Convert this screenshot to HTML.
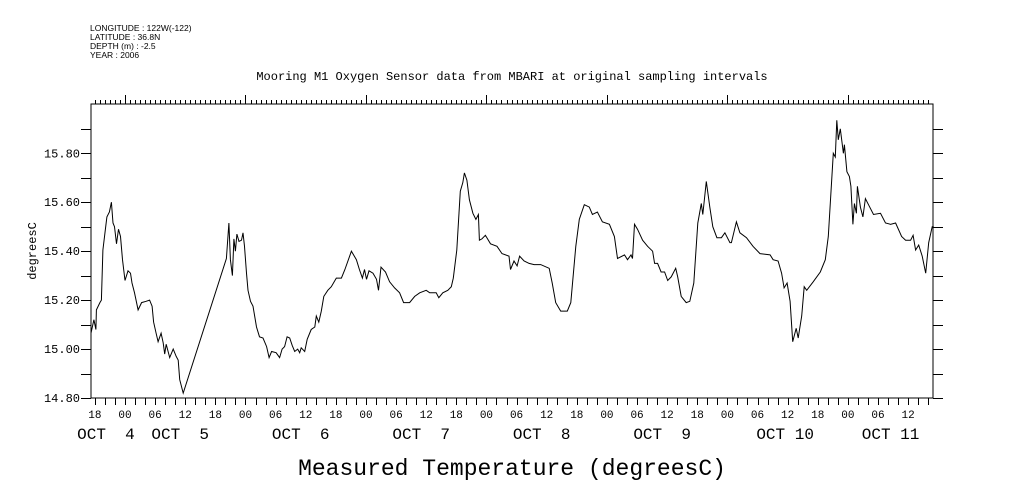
<!DOCTYPE html>
<html><head><meta charset="utf-8"><style>
body{margin:0;background:#fff;}
svg{display:block;font-family:"Liberation Mono",monospace;}
</style></head><body>
<svg id="chart" width="1009" height="504" viewBox="0 0 1009 504" xmlns="http://www.w3.org/2000/svg">
<rect width="1009" height="504" fill="#fff"/>
<g font-size="8.5" font-family="Liberation Sans, sans-serif">
<text x="90" y="31">LONGITUDE : 122W(-122)</text>
<text x="90" y="40">LATITUDE : 36.8N</text>
<text x="90" y="49">DEPTH (m) : -2.5</text>
<text x="90" y="58">YEAR : 2006</text>
</g>
<text x="512" y="80" font-size="12" text-anchor="middle">Mooring M1 Oxygen Sensor data from MBARI at original sampling intervals</text>
<text x="0" y="0" font-size="12" text-anchor="middle" transform="translate(36,251) rotate(-90)">degreesC</text>
<text x="512" y="475" font-size="23" text-anchor="middle">Measured Temperature (degreesC)</text>
<g id="axes"></g>
<path id="line" fill="none" stroke="#000" stroke-width="1"/>
</svg>
<script>
const hours=[-7.0,-6.2,-5.8,-5.7,-5.0,-4.7,-4.4,-3.9,-3.6,-3.1,-2.7,-2.4,-2.1,-1.7,-1.3,-0.9,-0.5,0,0.6,1.1,1.4,1.9,2.6,3.3,4.2,4.9,5.4,5.7,6.2,6.6,7.2,7.6,7.9,8.2,8.9,9.6,10.2,10.6,10.9,11.6,20.2,20.7,21.0,21.4,21.7,22.0,22.3,22.7,23.2,23.5,23.8,24.2,24.5,25.0,25.5,26.2,26.8,27.5,28.2,28.7,29.2,30.1,30.8,31.3,31.8,32.3,32.8,33.3,33.8,34.4,34.8,35.1,35.8,36.3,37.1,37.8,38.1,38.6,39.1,39.6,40.4,41.1,42.1,43.1,43.8,45.1,46.1,46.7,47.3,47.7,48.1,48.6,49.4,50.1,50.5,51.0,51.9,52.7,53.7,54.7,55.5,56.7,57.7,58.7,60.0,60.7,62.0,62.5,63.3,64.3,65.0,65.4,66.1,66.8,67.3,67.6,68.1,68.6,69.3,69.9,70.4,70.6,71.1,71.8,72.8,74.1,75.1,76.5,76.8,77.5,78.1,78.6,79.5,80.5,81.5,82.8,84.5,85.1,85.8,86.8,88.1,88.8,89.8,90.5,91.5,92.5,93.1,94.1,95.1,96.5,97.5,98.1,99.5,100.1,100.8,101.1,101.5,102.1,103.1,104.1,105.1,105.5,106.1,106.8,107.5,108.1,108.8,109.7,110.1,110.8,111.8,112.5,113.3,114.1,114.8,115.1,115.8,116.5,117.1,117.9,118.8,119.5,120.5,120.8,121.8,122.5,123.8,125.1,126.5,128.5,129.1,130.1,130.8,131.3,131.9,132.5,133.0,133.7,134.1,134.8,135.3,135.8,137.1,138.5,139.5,140.1,141.1,141.5,141.8,142.1,142.5,143.1,143.3,143.8,144.3,144.6,145.0,145.3,145.7,145.9,146.5,147.0,147.5,148.1,149.1,150.5,151.5,152.5,153.5,154.7,155.5,156.5,157.0,157.5,158.1,158.8,159.5,160.1,160.8,161.1];
const temps=[15.065,15.12,15.08,15.16,15.19,15.20,15.405,15.49,15.54,15.56,15.60,15.515,15.50,15.43,15.49,15.46,15.365,15.28,15.32,15.31,15.27,15.23,15.16,15.19,15.195,15.20,15.175,15.11,15.065,15.03,15.065,15.025,14.98,15.02,14.965,15.0,14.97,14.955,14.875,14.82,15.37,15.515,15.365,15.30,15.45,15.40,15.47,15.44,15.445,15.475,15.42,15.31,15.24,15.195,15.175,15.09,15.05,15.045,15.01,14.965,14.99,14.985,14.965,15.0,15.01,15.05,15.045,15.015,14.99,15.0,14.985,15.005,14.99,15.04,15.08,15.09,15.135,15.11,15.155,15.215,15.24,15.255,15.29,15.29,15.325,15.40,15.365,15.325,15.29,15.325,15.285,15.32,15.31,15.285,15.24,15.335,15.315,15.275,15.25,15.23,15.19,15.19,15.215,15.23,15.24,15.23,15.23,15.21,15.23,15.24,15.255,15.29,15.405,15.645,15.68,15.72,15.69,15.61,15.555,15.53,15.55,15.445,15.45,15.465,15.43,15.42,15.39,15.38,15.325,15.36,15.34,15.38,15.36,15.35,15.345,15.345,15.33,15.27,15.19,15.155,15.155,15.19,15.42,15.53,15.59,15.58,15.55,15.56,15.52,15.51,15.46,15.37,15.385,15.365,15.385,15.37,15.51,15.49,15.445,15.42,15.40,15.35,15.35,15.315,15.315,15.28,15.295,15.33,15.295,15.215,15.19,15.195,15.27,15.515,15.595,15.55,15.685,15.58,15.50,15.455,15.455,15.475,15.435,15.435,15.52,15.475,15.455,15.42,15.39,15.385,15.365,15.36,15.31,15.25,15.27,15.195,15.03,15.085,15.045,15.135,15.255,15.24,15.275,15.315,15.365,15.46,15.80,15.785,15.935,15.855,15.90,15.80,15.835,15.725,15.705,15.665,15.51,15.595,15.555,15.665,15.58,15.54,15.615,15.59,15.55,15.555,15.515,15.51,15.515,15.46,15.445,15.445,15.465,15.405,15.425,15.38,15.31,15.435,15.50,15.50];
const yTickValues=[14.8,14.9,15.0,15.1,15.2,15.3,15.4,15.5,15.6,15.7,15.8,15.9];
const yTickLabels=["14.80","","15.00","","15.20","","15.40","","15.60","","15.80",""];
const hourLabels=["18","00","06","12","18","00","06","12","18","00","06","12","18","00","06","12","18","00","06","12","18","00","06","12","18","00","06","12","18","00","06","12"];
const hourLabelHours=[-6,0,6,12,18,24,30,36,42,48,54,60,66,72,78,84,90,96,102,108,114,120,126,132,138,144,150,156];
const dayLabels=["OCT  4","OCT  5","OCT  6","OCT  7","OCT  8","OCT  9","OCT 10","OCT 11"];
const dayLabelHours=[-3.8,11,35,59,83,107,131.5,152.5];

const L=91,R=933,T=104,B=398;
const H0=-6.8,H1=161;
const V0=14.8,V1=16.0;
function xs(h){return 125+h*5.02;}
function ys(v){return 398-(v-14.8)*244.7;}
const NS="http://www.w3.org/2000/svg";
const ax=document.getElementById('axes');
function mk(tag,attrs){const e=document.createElementNS(NS,tag);for(const k in attrs)e.setAttribute(k,attrs[k]);ax.appendChild(e);return e;}
let frame=mk('rect',{x:L,y:T,width:R-L,height:B-T,fill:'none',stroke:'#000','stroke-width':1});


let d='';
for(let h=-6;h<=161;h++){const x=Math.round(xs(h))+0.5;if(x<L||x>R)continue;
 const major=((h%24)+24)%24===0;
 d+=`M${x} ${T}V${T-(major?9:4)}`;
 if(h%2===0) d+=`M${x} ${B}V${B+7}`;
}
for(const v of yTickValues){const y=Math.round(ys(v))+0.5;d+=`M${L} ${y}H${L-10}M${R} ${y}H${R+10}`;}
let tk=mk('path',{d:d,stroke:'#000','stroke-width':1,fill:'none'});


yTickValues.forEach((v,i)=>{if(!yTickLabels[i])return;
 const t=mk('text',{x:80,y:ys(v)+4,'font-size':12,'text-anchor':'end'});t.textContent=yTickLabels[i];
 
 });
hourLabelHours.forEach((h,i)=>{const t=mk('text',{x:xs(h),y:418,'font-size':11,'text-anchor':'middle'});t.textContent=hourLabels[i];
 
 });
dayLabelHours.forEach((h,i)=>{const t=mk('text',{x:xs(h),y:439,'font-size':16,'text-anchor':'middle','xml:space':'preserve'});t.style.whiteSpace='pre';t.textContent=dayLabels[i];
 
 });
let p='';
hours.forEach((h,i)=>{p+=(i?'L':'M')+Math.max(L,xs(h)).toFixed(1)+' '+ys(temps[i]).toFixed(1);});
document.getElementById('line').setAttribute('d',p);
</script>
</body></html>
